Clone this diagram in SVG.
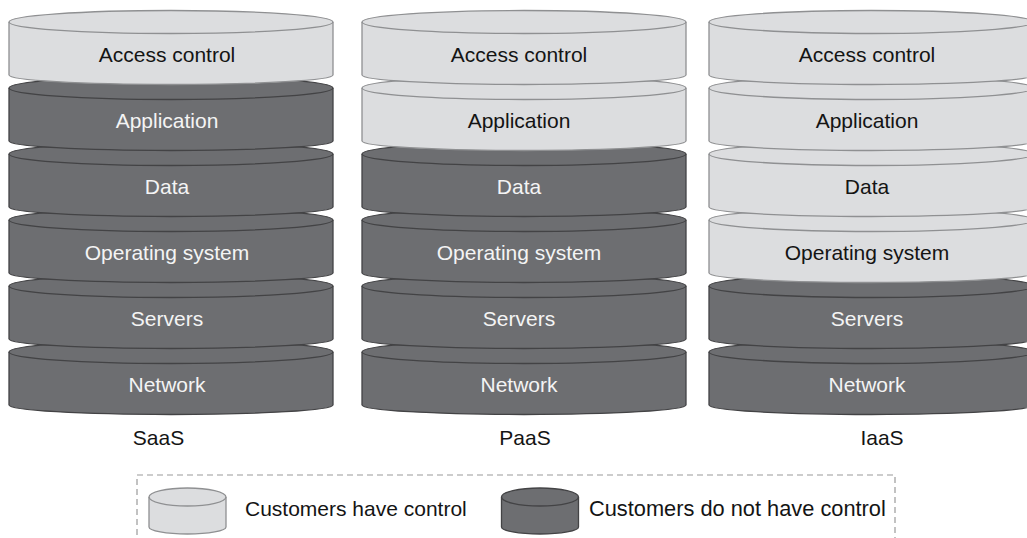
<svg xmlns="http://www.w3.org/2000/svg" xmlns:xlink="http://www.w3.org/1999/xlink" width="1027" height="538" viewBox="0 0 1027 538">
<style>
.lt{fill:#dcdddf;stroke:#8f9092;stroke-width:1.3}
.dk{fill:#6d6e71;stroke:#434345;stroke-width:1.3}
text{font-family:"Liberation Sans",Arial,Helvetica,sans-serif;font-size:21px;text-anchor:middle}
.tl{fill:#141414}
.td{fill:#f4f4f4}
.leg{text-anchor:start;fill:#141414}
</style>
<defs>
<g id="cyl">
<path d="M-162,0 V53 A162 9.5 0 0 0 162,53 V0 A162 11.5 0 0 0 -162,0 Z"/>
<path d="M-162,0 A162 11.5 0 0 0 162,0" fill="none"/>
</g>
<g id="mini">
<path d="M-38.5,0 V30 A38.5 7 0 0 0 38.5,30 V0 A38.5 9 0 0 0 -38.5,0 Z"/>
<path d="M-38.5,0 A38.5 9 0 0 0 38.5,0" fill="none"/>
</g>
</defs>
<rect width="1027" height="538" fill="#ffffff"/>

<g id="saas">
<g id="saas-network"><use xlink:href="#cyl" href="#cyl" class="dk" x="171" y="352"/><text class="td" x="167" y="391.5">Network</text></g>
<g id="saas-servers"><use xlink:href="#cyl" href="#cyl" class="dk" x="171" y="286"/><text class="td" x="167" y="325.5">Servers</text></g>
<g id="saas-os"><use xlink:href="#cyl" href="#cyl" class="dk" x="171" y="220"/><text class="td" x="167" y="259.5">Operating system</text></g>
<g id="saas-data"><use xlink:href="#cyl" href="#cyl" class="dk" x="171" y="154"/><text class="td" x="167" y="193.5">Data</text></g>
<g id="saas-app"><use xlink:href="#cyl" href="#cyl" class="dk" x="171" y="88"/><text class="td" x="167" y="127.5">Application</text></g>
<g id="saas-access"><use xlink:href="#cyl" href="#cyl" class="lt" x="171" y="22"/><text class="tl" x="167" y="61.5">Access control</text></g>
<text class="tl" x="158.5" y="445">SaaS</text>
</g>

<g id="paas">
<g id="paas-network"><use xlink:href="#cyl" href="#cyl" class="dk" x="524" y="352"/><text class="td" x="519" y="391.5">Network</text></g>
<g id="paas-servers"><use xlink:href="#cyl" href="#cyl" class="dk" x="524" y="286"/><text class="td" x="519" y="325.5">Servers</text></g>
<g id="paas-os"><use xlink:href="#cyl" href="#cyl" class="dk" x="524" y="220"/><text class="td" x="519" y="259.5">Operating system</text></g>
<g id="paas-data"><use xlink:href="#cyl" href="#cyl" class="dk" x="524" y="154"/><text class="td" x="519" y="193.5">Data</text></g>
<g id="paas-app"><use xlink:href="#cyl" href="#cyl" class="lt" x="524" y="88"/><text class="tl" x="519" y="127.5">Application</text></g>
<g id="paas-access"><use xlink:href="#cyl" href="#cyl" class="lt" x="524" y="22"/><text class="tl" x="519" y="61.5">Access control</text></g>
<text class="tl" x="525" y="445">PaaS</text>
</g>

<g id="iaas">
<g id="iaas-network"><use xlink:href="#cyl" href="#cyl" class="dk" x="871" y="352"/><text class="td" x="867" y="391.5">Network</text></g>
<g id="iaas-servers"><use xlink:href="#cyl" href="#cyl" class="dk" x="871" y="286"/><text class="td" x="867" y="325.5">Servers</text></g>
<g id="iaas-os"><use xlink:href="#cyl" href="#cyl" class="lt" x="871" y="220"/><text class="tl" x="867" y="259.5">Operating system</text></g>
<g id="iaas-data"><use xlink:href="#cyl" href="#cyl" class="lt" x="871" y="154"/><text class="tl" x="867" y="193.5">Data</text></g>
<g id="iaas-app"><use xlink:href="#cyl" href="#cyl" class="lt" x="871" y="88"/><text class="tl" x="867" y="127.5">Application</text></g>
<g id="iaas-access"><use xlink:href="#cyl" href="#cyl" class="lt" x="871" y="22"/><text class="tl" x="867" y="61.5">Access control</text></g>
<text class="tl" x="882" y="445">IaaS</text>
</g>

<g id="connectors"></g>

<g id="legend">
<path d="M137,545 V475 H895 V545" fill="none" stroke="#9a9a9a" stroke-width="1.2" stroke-dasharray="6,4"/>
<g id="legend-light"><use xlink:href="#mini" href="#mini" class="lt" x="187.5" y="497"/><text class="leg" x="245" y="516">Customers have control</text></g>
<g id="legend-dark"><use xlink:href="#mini" href="#mini" class="dk" x="540" y="497"/><text class="leg" x="589" y="516" style="font-size:21.8px">Customers do not have control</text></g>
</g>
</svg>
